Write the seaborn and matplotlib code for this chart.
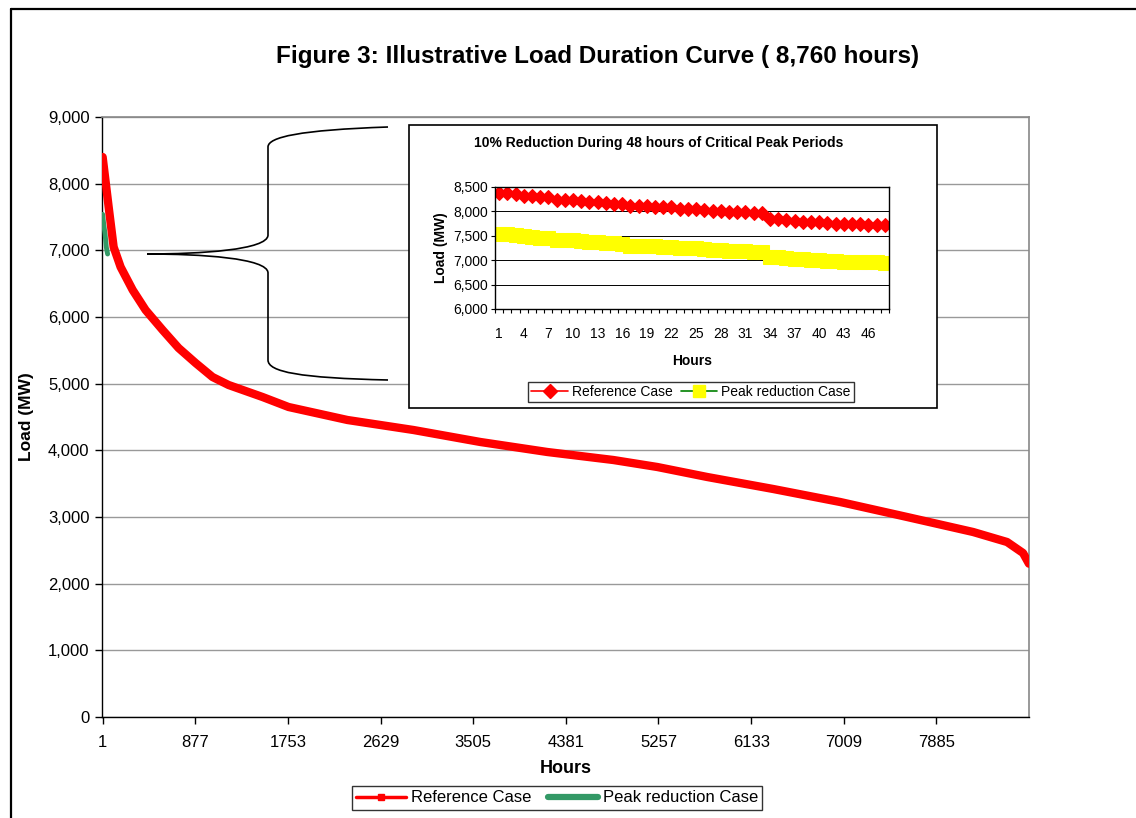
import numpy as np
import pandas as pd
import seaborn as sns
import matplotlib
matplotlib.use("Agg")
import matplotlib.pyplot as plt
from matplotlib.lines import Line2D
from matplotlib.patches import Rectangle, PathPatch
from matplotlib.path import Path
from matplotlib.ticker import FuncFormatter, FixedLocator

# ---------------- data ----------------
ref_hours = [1, 58, 105, 171, 285, 407, 568, 719, 880, 1040, 1192, 1513, 1759,
             2316, 2940, 3573, 4206, 4830, 5246, 5718, 6342, 6975, 7608, 8232,
             8553, 8704, 8760]
ref_load = [8400, 7650, 7050, 6750, 6405, 6105, 5805, 5535, 5310, 5100, 4980,
            4800, 4650, 4455, 4305, 4125, 3975, 3855, 3750, 3600, 3420, 3225,
            3000, 2775, 2625, 2460, 2300]

peak_hours = [1, 12, 24, 36, 48]
peak_load = [7540, 7380, 7245, 7045, 6945]

main_xticks = [1, 877, 1753, 2629, 3505, 4381, 5257, 6133, 7009, 7885]
main_yticks = [0, 1000, 2000, 3000, 4000, 5000, 6000, 7000, 8000, 9000]

inset_hours = list(range(1, 49))
inset_ref = [8384, 8380, 8350, 8323, 8310, 8296, 8290, 8240, 8234, 8228, 8220, 8200,
             8193, 8173, 8160, 8146, 8112, 8112, 8105, 8098, 8090, 8085, 8057, 8050,
             8044, 8037, 8010, 8003, 7996, 7990, 7982, 7970, 7962, 7853, 7853, 7826,
             7805, 7792, 7785, 7778, 7765, 7750, 7744, 7737, 7737, 7730, 7730, 7716]
inset_peak = [7545, 7540, 7515, 7490, 7480, 7465, 7460, 7415, 7410, 7405, 7400, 7380,
              7375, 7355, 7345, 7330, 7300, 7300, 7295, 7290, 7280, 7275, 7250, 7245,
              7240, 7235, 7210, 7205, 7195, 7190, 7185, 7175, 7165, 7070, 7070, 7045,
              7025, 7015, 7005, 7000, 6990, 6975, 6970, 6965, 6965, 6955, 6955, 6945]
inset_xticks = list(range(1, 48, 3))
inset_yticks = [6000, 6500, 7000, 7500, 8000, 8500]

title = "Figure 3: Illustrative Load Duration Curve ( 8,760 hours)"
inset_title = "10% Reduction During 48 hours of Critical Peak Periods"

# ---------------- style ----------------
sns.set_style("white")
plt.rcParams['font.family'] = ['Liberation Sans', 'DejaVu Sans']
plt.rcParams['text.color'] = 'black'
plt.rcParams['axes.labelcolor'] = 'black'
plt.rcParams['xtick.color'] = 'black'
plt.rcParams['ytick.color'] = 'black'

W, H = 1136, 818
fig = plt.figure(figsize=(W / 100, H / 100), dpi=100)

def fx(px):
    return px / W

def fy(py):
    return 1 - py / H

# outer frame (left and top lines)
fig.add_artist(Line2D([fx(11), fx(11)], [fy(9), 0], color='black', lw=1.6,
                      transform=fig.transFigure))
fig.add_artist(Line2D([fx(11), 1.0], [fy(9), fy(9)], color='black', lw=1.6,
                      transform=fig.transFigure))

fig.text(fx(598), fy(57), title, ha='center', va='center', fontsize=17.5,
         fontweight='bold')

# ---------------- main axes ----------------
ax = fig.add_axes([fx(102), fy(717), fx(1029) - fx(102), fy(117) - fy(717)])
df_ref = pd.DataFrame({"Hours": ref_hours, "Load": ref_load})
df_peak = pd.DataFrame({"Hours": peak_hours, "Load": peak_load})
sns.lineplot(data=df_peak, x="Hours", y="Load", ax=ax, color='#339966', lw=3.5,
             zorder=3)
sns.lineplot(data=df_ref, x="Hours", y="Load", ax=ax, color='#FF0000', lw=6,
             solid_capstyle='round', zorder=4)
ax.set_xlim(-5, 8760.5)
ax.set_ylim(0, 9000)
ax.yaxis.set_major_locator(FixedLocator(main_yticks))
ax.xaxis.set_major_locator(FixedLocator(main_xticks))
ax.yaxis.set_major_formatter(FuncFormatter(lambda v, p: f"{v:,.0f}"))
ax.grid(axis='y', color='#999999', lw=1)
ax.set_axisbelow(True)
for s in ['top', 'right']:
    ax.spines[s].set_color('#888888')
    ax.spines[s].set_linewidth(1.2)
for s in ['left', 'bottom']:
    ax.spines[s].set_color('black')
    ax.spines[s].set_linewidth(1.0)
ax.tick_params(axis='both', direction='out', length=5, width=1, color='black',
               labelsize=12, pad=4, left=True, bottom=True)
ax.tick_params(axis='x', pad=8)
ax.set_xlabel("Hours", fontsize=13, fontweight='bold', labelpad=7)
ax.set_ylabel("Load (MW)", fontsize=12.5, fontweight='bold', labelpad=10)

# curly brace (annotation)
bx_tip, by_tip = 147, 254
bx_v = 268
bx_end = 388
verts = [
    (bx_end, 127), (300, 130), (bx_v, 137), (bx_v, 147),
    (bx_v, 235),
    (bx_v, 250), (200, 254), (bx_tip, by_tip),
    (200, 254), (bx_v, 258), (bx_v, 273),
    (bx_v, 360),
    (bx_v, 372), (300, 378), (bx_end, 380),
]
codes = [Path.MOVETO, Path.CURVE4, Path.CURVE4, Path.CURVE4,
         Path.LINETO,
         Path.CURVE4, Path.CURVE4, Path.CURVE4,
         Path.CURVE4, Path.CURVE4, Path.CURVE4,
         Path.LINETO,
         Path.CURVE4, Path.CURVE4, Path.CURVE4]
verts_f = [(fx(x), fy(y)) for x, y in verts]
fig.add_artist(PathPatch(Path(verts_f, codes), fill=False, edgecolor='black',
                         lw=1.2, transform=fig.transFigure, zorder=5))

# main legend
h_ref = Line2D([], [], color='#FF0000', lw=2.5, marker='s', markersize=5)
h_peak = Line2D([], [], color='#339966', lw=4.5)
leg = fig.legend([h_ref, h_peak], ["Reference Case", "Peak reduction Case"],
                 loc='center', bbox_to_anchor=(fx(557), fy(798)), ncol=2,
                 fontsize=12, frameon=True, fancybox=False, edgecolor='black',
                 handlelength=3.0, handletextpad=0.3, columnspacing=1.0,
                 borderpad=0.25)
leg.get_frame().set_linewidth(1.0)

# ---------------- inset ----------------
fig.add_artist(Rectangle((fx(409), fy(408)), fx(937) - fx(409), fy(125) - fy(408),
                         transform=fig.transFigure, facecolor='white',
                         edgecolor='black', lw=1.2, zorder=6))
fig.text(fx(659), fy(143), inset_title, ha='center', va='center', fontsize=10,
         fontweight='bold', zorder=7)

iax = fig.add_axes([fx(495), fy(309), fx(889) - fx(495), fy(187) - fy(309)],
                   zorder=8)
df_in = pd.DataFrame({"Hours": inset_hours, "Ref": inset_ref, "Peak": inset_peak})
sns.lineplot(data=df_in, x="Hours", y="Peak", ax=iax, color='#008000', lw=1,
             marker='s', markersize=10.5, markerfacecolor='#FFFF00',
             markeredgecolor='#FFFF00')
sns.lineplot(data=df_in, x="Hours", y="Ref", ax=iax, color='#FF0000', lw=1,
             marker='D', markersize=7.5, markerfacecolor='#FF0000',
             markeredgecolor='#FF0000')
iax.set_xlim(0.5, 48.5)
iax.set_ylim(6000, 8500)
iax.yaxis.set_major_locator(FixedLocator(inset_yticks))
iax.yaxis.set_major_formatter(FuncFormatter(lambda v, p: f"{v:,.0f}"))
iax.xaxis.set_major_locator(FixedLocator(inset_xticks))
iax.xaxis.set_minor_locator(FixedLocator(np.arange(0.5, 49, 1.0)))
iax.grid(axis='y', color='black', lw=0.7)
iax.set_axisbelow(True)
for s in iax.spines.values():
    s.set_color('black')
    s.set_linewidth(1.0)
iax.tick_params(axis='x', which='major', length=0, labelsize=10, pad=13)
iax.tick_params(axis='x', which='minor', direction='out', length=3, width=0.8,
                color='black', bottom=True)
iax.tick_params(axis='y', which='major', direction='out', length=3, width=0.8,
                color='black', labelsize=10, pad=2, left=True)
iax.set_xlabel("Hours", fontsize=10, fontweight='bold', labelpad=9)
iax.set_ylabel("Load (MW)", fontsize=10, fontweight='bold', labelpad=4)

ih_ref = Line2D([], [], color='#FF0000', lw=1.2, marker='D', markersize=7)
ih_peak = Line2D([], [], color='#008000', lw=1.2, marker='s', markersize=9,
                 markerfacecolor='#FFFF00', markeredgecolor='#FFFF00')
ileg = fig.legend([ih_ref, ih_peak], ["Reference Case", "Peak reduction Case"],
                  loc='center', bbox_to_anchor=(fx(691), fy(392)), ncol=2,
                  fontsize=10, frameon=True, fancybox=False, edgecolor='black',
                  handlelength=2.6, handletextpad=0.3, columnspacing=0.6,
                  borderpad=0.25)
ileg.get_frame().set_linewidth(1.0)
ileg.set_zorder(9)

fig.savefig("out.png", dpi=100)
